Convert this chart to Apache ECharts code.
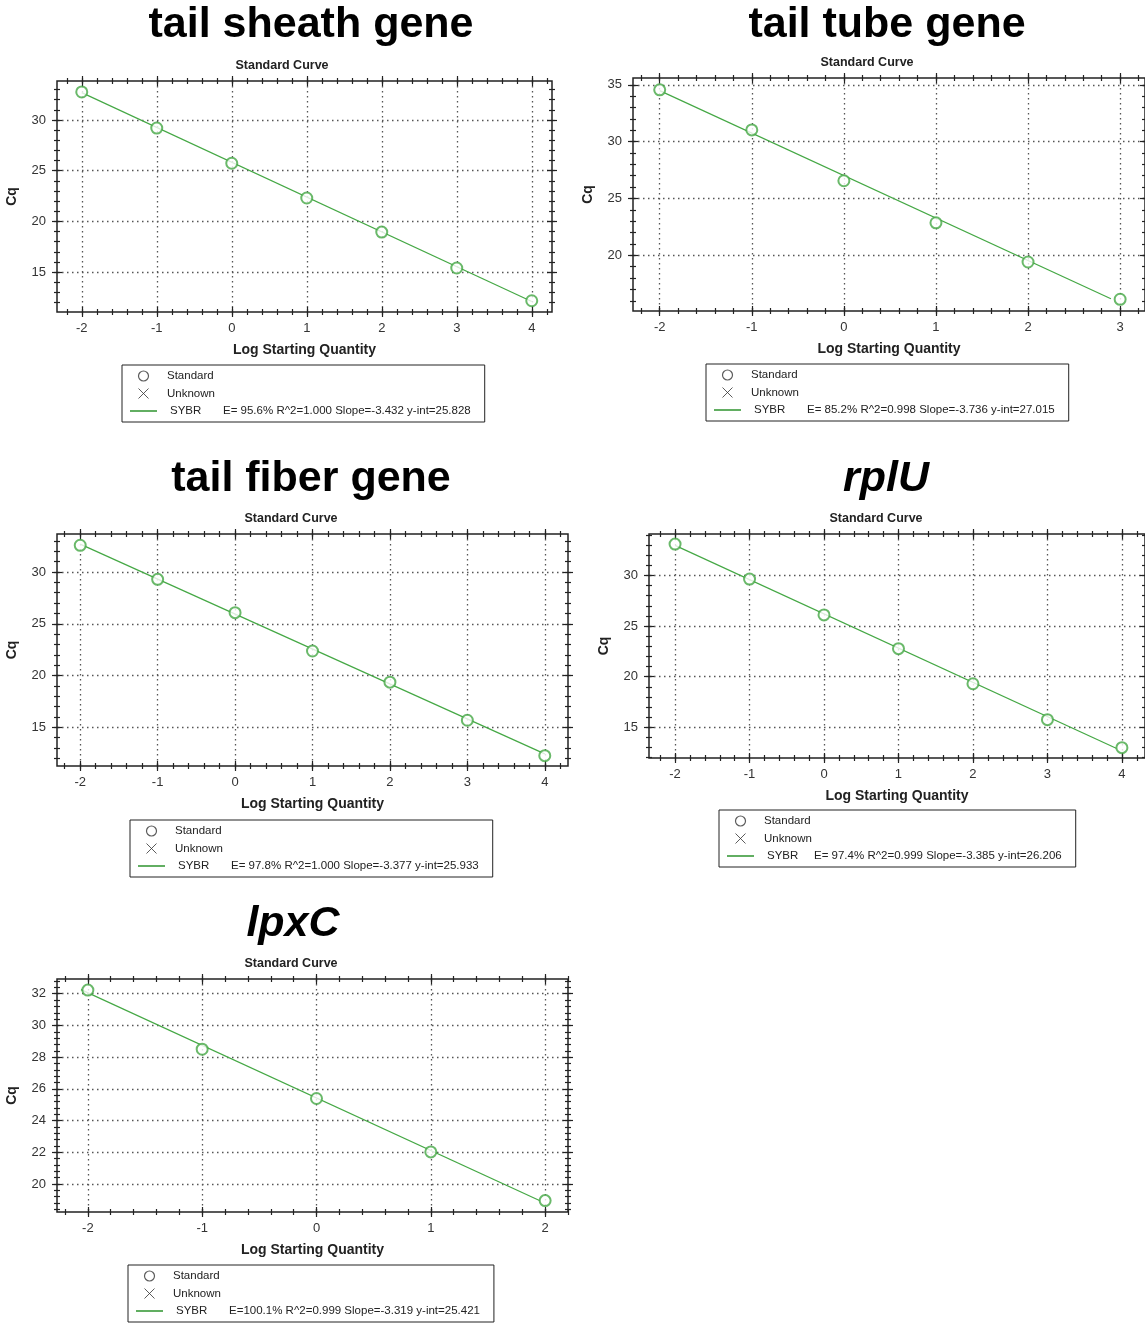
<!DOCTYPE html>
<html>
<head>
<meta charset="utf-8">
<script src="https://cdn.jsdelivr.net/npm/echarts@6/dist/echarts.min.js"></script>
<style>
  html, body { margin: 0; padding: 0; background: #fff; }
  #main { width: 1145px; height: 1326px; }
</style>
</head>
<body>
<div id="main"></div>
<script>
// standard curves, Cq vs log starting quantity
var genes = ['tail sheath gene', 'tail tube gene', 'tail fiber gene', 'rplU', 'lpxC'];

var logQty1 = [-2, -1, 0, 1, 2, 3, 4];
var cq1 = [32.76, 29.2, 25.73, 22.3, 18.94, 15.4, 12.17];
var fit1 = [[-2, 32.69], [4, 12.10]];
var stats1 = 'E= 95.6% R^2=1.000 Slope=-3.432 y-int=25.828';

var logQty2 = [-2, -1, 0, 1, 2, 3];
var cq2 = [34.56, 31.03, 26.56, 22.86, 19.41, 16.13];
var fit2 = [[-2, 34.49], [2.9, 16.18]];
var stats2 = 'E= 85.2% R^2=0.998 Slope=-3.736 y-int=27.015';

var logQty3 = [-2, -1, 0, 1, 2, 3, 4];
var cq3 = [32.58, 29.29, 26.07, 22.37, 19.36, 15.68, 12.26];
var fit3 = [[-2, 32.69], [4, 12.43]];
var stats3 = 'E= 97.8% R^2=1.000 Slope=-3.377 y-int=25.933';

var logQty4 = [-2, -1, 0, 1, 2, 3, 4];
var cq4 = [33.1, 29.64, 26.1, 22.77, 19.3, 15.75, 12.98];
var fit4 = [[-2, 32.98], [3.93, 12.9]];
var stats4 = 'E= 97.4% R^2=0.999 Slope=-3.385 y-int=26.206';

var logQty5 = [-2, -1, 0, 1, 2];
var cq5 = [32.23, 28.5, 25.39, 22.02, 18.95];
var fit5 = [[-2.06, 32.26], [1.96, 18.92]];
var stats5 = 'E=100.1% R^2=0.999 Slope=-3.319 y-int=25.421';

var green = '#45a845';
var ink = '#222';
var font = 'Liberation Sans, Arial, sans-serif';

// where each panel sits on the page
var panels = [
  { gene: genes[0], x: logQty1, y: cq1, fit: fit1, stats: stats1,
    grid: { left: 57, top: 81, width: 495, height: 231 }, xr: [-2.33, 4.27], yr: [11.06, 33.84], yStep: 5, yMinor: 1,
    title: [311, 4], sub: [282, 59], legend: [122, 365], sybrW: 53 },
  { gene: genes[1], x: logQty2, y: cq2, fit: fit2, stats: stats2,
    grid: { left: 633, top: 78, width: 513, height: 233 }, xr: [-2.29, 3.27], yr: [15.1, 35.6], yStep: 5, yMinor: 1,
    title: [887, 4], sub: [867, 56], legend: [706, 364], sybrW: 53 },
  { gene: genes[2], x: logQty3, y: cq3, fit: fit3, stats: stats3,
    grid: { left: 57, top: 534, width: 511, height: 232 }, xr: [-2.30, 4.30], yr: [11.26, 33.67], yStep: 5, yMinor: 1,
    title: [311, 458], sub: [291, 512], legend: [130, 820], sybrW: 53 },
  { gene: genes[3], x: logQty4, y: cq4, fit: fit4, stats: stats4, italic: true,
    grid: { left: 649, top: 534, width: 497, height: 224 }, xr: [-2.35, 4.31], yr: [11.96, 34.1], yStep: 5, yMinor: 1,
    title: [886, 458], sub: [876, 512], legend: [719, 810], sybrW: 47 },
  { gene: genes[4], x: logQty5, y: cq5, fit: fit5, stats: stats5, italic: true,
    grid: { left: 57, top: 979, width: 511, height: 233 }, xr: [-2.27, 2.20], yr: [18.23, 32.93], yStep: 2, yMinor: 0.4,
    title: [293, 903], sub: [291, 957], legend: [128, 1265], sybrW: 53 }
];

function tickList(lo, hi, step) {
  var out = [];
  for (var k = Math.ceil(lo / step - 1e-9); k * step <= hi + 1e-9; k++) {
    out.push(Math.round(k * step * 1000) / 1000);
  }
  return out;
}

var grids = [], xAxes = [], yAxes = [], series = [], titles = [], legends = [];

panels.forEach(function (p, i) {
  grids.push({
    left: p.grid.left, top: p.grid.top, width: p.grid.width, height: p.grid.height,
    show: true, borderColor: ink, borderWidth: 1.5, backgroundColor: 'transparent'
  });

  var xMajor = tickList(p.xr[0], p.xr[1], 1);
  var xMinor = tickList(p.xr[0], p.xr[1], 0.2);
  var yMajor = tickList(p.yr[0], p.yr[1], p.yStep);
  var yMinor = tickList(p.yr[0], p.yr[1], p.yMinor);

  var xBase = xAxes.length, yBase = yAxes.length;
  var dotted = { type: [1.5, 3.5], color: '#555', width: 1.3 };

  // main axes: labels, grid lines and names
  xAxes.push({
    gridIndex: i, type: 'value', position: 'bottom', min: p.xr[0], max: p.xr[1],
    axisLine: { show: false, onZero: false },
    axisTick: { show: false, customValues: xMajor },
    axisLabel: { customValues: xMajor, margin: 10, fontSize: 13, color: '#333', fontFamily: font },
    splitLine: { show: true, lineStyle: dotted },
    name: 'Log Starting Quantity', nameLocation: 'middle', nameGap: 31,
    nameTextStyle: { fontWeight: 'bold', fontSize: 14, color: ink, fontFamily: font }
  });
  yAxes.push({
    gridIndex: i, type: 'value', position: 'left', min: p.yr[0], max: p.yr[1],
    axisLine: { show: false, onZero: false },
    axisTick: { show: false, customValues: yMajor },
    axisLabel: { customValues: yMajor, margin: 11, fontSize: 13, color: '#333', fontFamily: font },
    splitLine: { show: true, lineStyle: dotted },
    name: 'Cq', nameLocation: 'middle', nameGap: 38,
    nameTextStyle: { fontWeight: 'bold', fontSize: 14, color: ink, fontFamily: font }
  });

  // tick-only axes, ticks crossing the frame on all four sides
  function tickAxis(pos, vals, half, range) {
    return {
      gridIndex: i, type: 'value', position: pos, offset: -half, min: range[0], max: range[1],
      axisLine: { show: false, onZero: false },
      axisTick: { show: true, length: half * 2, customValues: vals, lineStyle: { color: ink, width: 1.2 } },
      axisLabel: { show: false }, splitLine: { show: false }
    };
  }
  ['bottom', 'top'].forEach(function (pos) {
    xAxes.push(tickAxis(pos, xMajor, 5, p.xr));
    xAxes.push(tickAxis(pos, xMinor, 3, p.xr));
  });
  ['left', 'right'].forEach(function (pos) {
    yAxes.push(tickAxis(pos, yMajor, 5, p.yr));
    yAxes.push(tickAxis(pos, yMinor, 3, p.yr));
  });

  var pts = p.x.map(function (v, j) { return [v, p.y[j]]; });
  series.push({
    type: 'scatter', name: 'Standard', xAxisIndex: xBase, yAxisIndex: yBase,
    data: pts, symbol: 'emptyCircle', symbolSize: 11, z: 4,
    itemStyle: { color: green, borderWidth: 1.5 }
  });
  series.push({
    type: 'scatter', name: 'Unknown', xAxisIndex: xBase, yAxisIndex: yBase,
    data: [], symbol: 'path://M0,0L10,10M10,0L0,10'
  });
  series.push({
    type: 'line', name: 'SYBR', xAxisIndex: xBase, yAxisIndex: yBase,
    data: p.fit, symbol: 'none', z: 3,
    lineStyle: { color: green, width: 1.2 }, itemStyle: { color: green }
  });

  titles.push({
    text: p.gene, left: p.title[0], top: p.title[1], textAlign: 'center', padding: 0,
    textStyle: { fontSize: 43, fontWeight: 'bold', fontStyle: p.italic ? 'italic' : 'normal', color: '#000', fontFamily: font }
  });
  titles.push({
    text: 'Standard Curve', left: p.sub[0], top: p.sub[1], textAlign: 'center', padding: 0,
    textStyle: { fontSize: 12.5, fontWeight: 'bold', color: ink, fontFamily: font }
  });

  legends.push({
    left: p.legend[0], top: p.legend[1], orient: 'vertical',
    itemWidth: 27, itemHeight: 10, itemGap: 3,
    padding: [4, 14, 4, 8], borderColor: ink, borderWidth: 1, backgroundColor: '#fff',
    selectedMode: false,
    data: [
      { name: 'Standard', icon: 'circle', itemStyle: { color: '#fff', borderColor: '#333', borderWidth: 1.2 } },
      { name: 'Unknown', icon: 'path://M0,0L10,10M10,0L0,10', itemStyle: { color: 'none', borderColor: '#333', borderWidth: 1 } },
      { name: 'SYBR', icon: 'path://M0,0H27V1.6H0Z', itemStyle: { color: '#3a9a3a', borderWidth: 0 } }
    ],
    formatter: function (name) {
      if (name === 'SYBR') return '{s|SYBR}{e|' + p.stats + '}';
      return '{n|' + name + '}';
    },
    textStyle: {
      fontSize: 11.5, color: ink, fontFamily: font, lineHeight: 14,
      rich: {
        n: { fontSize: 11.5, color: ink, fontFamily: font, padding: [0, 0, 0, 5] },
        s: { fontSize: 11.5, color: ink, fontFamily: font, width: p.sybrW, padding: [0, 0, 0, 8] },
        e: { fontSize: 11.5, color: ink, fontFamily: font }
      }
    }
  });
});

var chart = echarts.init(document.getElementById('main'));
chart.setOption({
  animation: false,
  backgroundColor: '#fff',
  title: titles,
  legend: legends,
  grid: grids,
  xAxis: xAxes,
  yAxis: yAxes,
  series: series
});
</script>
</body>
</html>
